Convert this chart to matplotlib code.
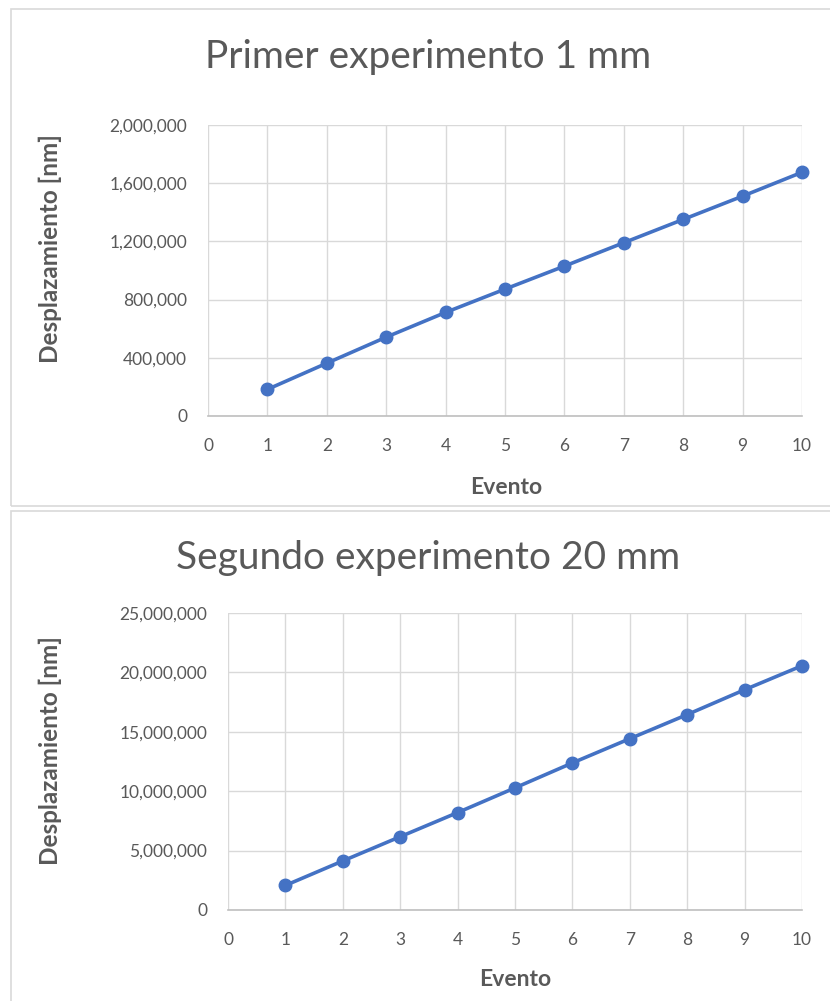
import matplotlib
matplotlib.use("Agg")
import matplotlib.pyplot as plt
from matplotlib.patches import Rectangle
from matplotlib.ticker import FuncFormatter

# Datos
eventos = [1, 2, 3, 4, 5, 6, 7, 8, 9, 10]
desp_1mm = [183000, 363000, 542000, 712000, 872000, 1030000, 1191000, 1351000, 1511000, 1675000]
desp_20mm = [2070000, 4130000, 6170000, 8200000, 10280000, 12380000, 14420000, 16450000, 18540000, 20560000]

titulo_1 = "Primer experimento 1 mm"
titulo_2 = "Segundo experimento 20 mm"
xlabel = "Evento"
ylabel = "Desplazamiento [nm]"
yticks_1 = [0, 400000, 800000, 1200000, 1600000, 2000000]
yticks_2 = [0, 5000000, 10000000, 15000000, 20000000, 25000000]
xticks = list(range(0, 11))

plt.rcParams["font.family"] = ["Lato", "DejaVu Sans"]

W, H = 830, 1001
gris = "#595959"
azul = "#4472C4"
fig = plt.figure(figsize=(W / 100, H / 100), dpi=100)
fig.patch.set_facecolor("white")


def px(x, y):
    return x / W, 1 - y / H


# marcos de cada gráfico
for (x0, y0, x1, y1) in [(11, 9, 835, 506), (11, 511, 835, 1010)]:
    fig.add_artist(Rectangle((x0 / W, 1 - y1 / H), (x1 - x0) / W, (y1 - y0) / H,
                             transform=fig.transFigure, fill=False,
                             edgecolor="#D9D9D9", linewidth=1.2))


def dibujar(left, top, right, bottom, y, yticks, titulo, tit_pos, ev_pos, yl_pos):
    ax = fig.add_axes([left / W, 1 - bottom / H, (right - left) / W, (bottom - top) / H])
    ax.plot(eventos, y, color=azul, linewidth=2.6, marker="o", markersize=9,
            clip_on=False, zorder=3)
    ax.set_xlim(0, 10)
    ax.set_ylim(yticks[0], yticks[-1])
    ax.set_xticks(xticks)
    ax.set_yticks(yticks)
    ax.yaxis.set_major_formatter(FuncFormatter(lambda v, p: f"{int(v):,}"))
    ax.grid(True, color="#D9D9D9", linewidth=1.0)
    ax.set_axisbelow(True)
    for s in ["top", "right", "left"]:
        ax.spines[s].set_visible(False)
    ax.spines["bottom"].set_color("#BFBFBF")
    ax.spines["bottom"].set_linewidth(1.2)
    ax.tick_params(axis="both", length=0, labelsize=12.5, labelcolor=gris)
    ax.tick_params(axis="x", pad=16)
    ax.tick_params(axis="y", pad=15)
    fig.text(*px(*tit_pos), titulo, ha="center", va="center", fontsize=28,
             color=gris)
    fig.text(*px(*ev_pos), xlabel, ha="center", va="center", fontsize=16.5,
             color=gris, fontweight="bold")
    fig.text(*px(*yl_pos), ylabel, ha="center", va="center", fontsize=17.5,
             color=gris, fontweight="bold", rotation=90)
    return ax


dibujar(208, 125, 802, 416, desp_1mm, yticks_1, titulo_1, (428, 57), (506, 487), (50, 249))
dibujar(228, 613, 802, 910, desp_20mm, yticks_2, titulo_2, (428, 558), (515, 980), (50, 751))

fig.savefig("out.png", dpi=100, facecolor="white")
